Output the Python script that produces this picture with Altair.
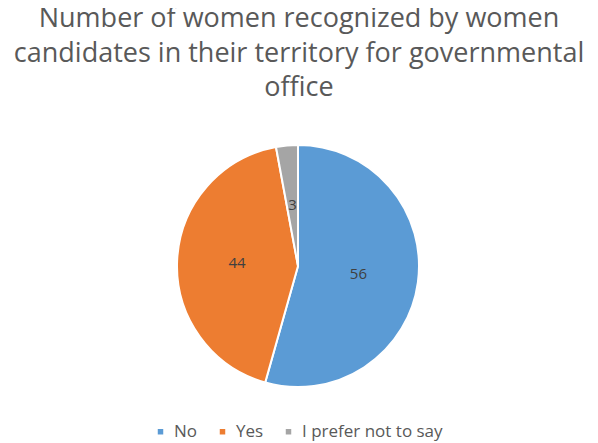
import altair as alt
import pandas as pd

categories = ["No", "Yes", "I prefer not to say"]
values = [56, 44, 3]
colors = ["#5B9BD5", "#ED7D31", "#A5A5A5"]
title_lines = [
    "Number of women recognized by women",
    "candidates in their territory for governmental",
    "office",
]

df = pd.DataFrame({"category": categories, "value": values, "order": list(range(len(categories)))})

cx, cy = 290, 158

base = alt.Chart(df).encode(
    theta=alt.Theta("value:Q", stack=True),
    order=alt.Order("order:Q"),
)

pie = base.mark_arc(outerRadius=121, stroke="white", strokeWidth=2).encode(
    color=alt.Color(
        "category:N",
        scale=alt.Scale(domain=categories, range=colors),
        sort=categories,
        legend=alt.Legend(
            title=None,
            orient="none",
            legendX=144,
            legendY=315,
            direction="horizontal",
            symbolType="square",
            symbolSize=30,
            symbolStrokeWidth=0,
            labelFontSize=17,
            labelFont="Open Sans",
            labelColor="#595959",
            columnPadding=16,
            labelOffset=5,
        ),
    ),
    x=alt.value(cx),
    y=alt.value(cy),
)

labels = base.mark_text(
    radius=61, fontSize=15, font="Open Sans", color="#404040", align="center", baseline="middle"
).encode(text="value:Q", x=alt.value(cx), y=alt.value(cy))

chart = (
    alt.layer(pie, labels)
    .properties(
        width=582,
        height=335,
        padding={"left": 0, "top": 100, "right": 0, "bottom": 0},
        autosize=alt.AutoSizeParams(type="none"),
        title=alt.TitleParams(
            text=title_lines,
            fontSize=27,
            lineHeight=34.5,
            font="Open Sans",
            fontWeight="normal",
            color="#595959",
            anchor="middle",
            offset=6,
        ),
    )
    .configure_view(stroke=None)
)

chart.save("out.html", embed_options={"renderer": "svg", "actions": False})
